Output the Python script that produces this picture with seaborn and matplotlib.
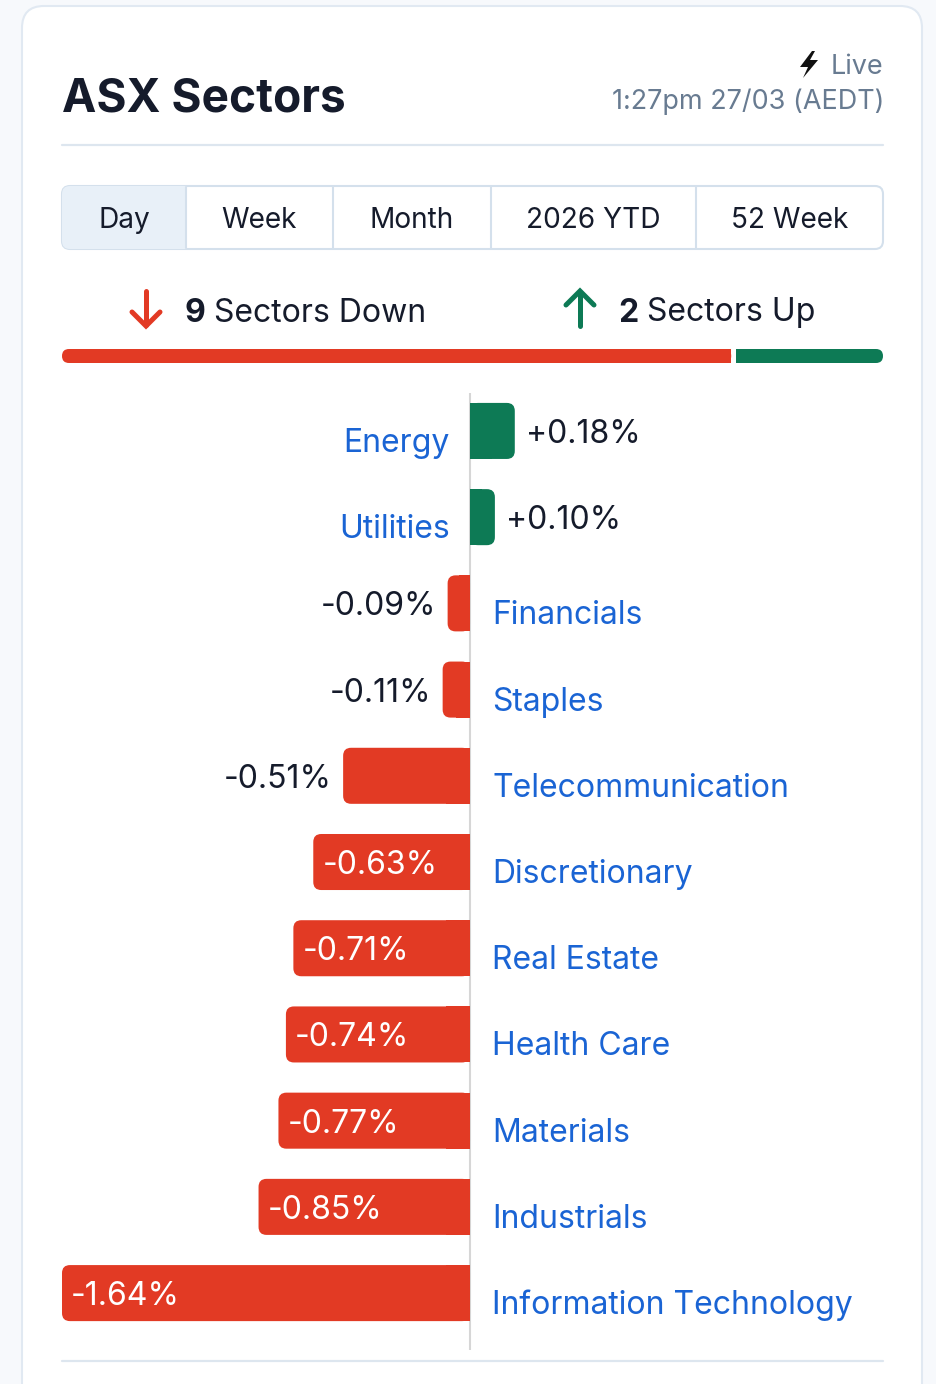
import numpy as np
import pandas as pd
import seaborn as sns
import matplotlib.pyplot as plt
from matplotlib.patches import FancyBboxPatch, Rectangle, Polygon

# data
sectors = ["Energy", "Utilities", "Financials", "Staples", "Telecommunication",
           "Discretionary", "Real Estate", "Health Care", "Materials",
           "Industrials", "Information Technology"]
changes = [0.18, 0.10, -0.09, -0.11, -0.51, -0.63, -0.71, -0.74, -0.77, -0.85, -1.64]
tabs = ["Day", "Week", "Month", "2026 YTD", "52 Week"]
title = "ASX Sectors"
live_text = "Live"
stamp_text = "1:27pm 27/03 (AEDT)"

RED = "#e23a24"
GREEN = "#0d7a55"
BLUE = "#1a64d4"
DARK = "#151b2b"
GREY = "#687b91"
LINE = "#dde6ef"

df = pd.DataFrame({"sector": sectors, "change": changes})
df["dir"] = np.where(df["change"] >= 0, "up", "down")
n_down = int((df["dir"] == "down").sum())
n_up = int((df["dir"] == "up").sum())

sns.set_style("white")
plt.rcParams["font.family"] = ["Inter", "DejaVu Sans"]

W, H = 936, 1384
fig = plt.figure(figsize=(W / 100, H / 100), dpi=100)
fig.patch.set_facecolor("#f7f9fc")

def px(v):
    return v * 0.72  # px -> pt at dpi 100

# background / overlay axes in pixel coords
bg = fig.add_axes([0, 0, 1, 1], zorder=0)
bg.set_xlim(0, W)
bg.set_ylim(H, 0)
bg.axis("off")

card = FancyBboxPatch((22, 6), 900, 1420, boxstyle="round,pad=0,rounding_size=22",
                      fc="white", ec="#e1e9f2", lw=1.5)
bg.add_patch(card)

bg.text(62, 100, title, fontsize=px(46), fontweight="bold", color=DARK, va="center", ha="left")
bg.text(883, 67, live_text, fontsize=px(27), color=GREY, va="center", ha="right")
bolt = Polygon([(812, 51), (800, 67), (808, 67), (803, 78), (818, 60), (810, 60), (815, 51)],
               closed=True, fc="#111111", ec="none")
bg.add_patch(bolt)
bg.text(884, 102, stamp_text, fontsize=px(27), color=GREY, va="center", ha="right")
bg.plot([62, 883], [145, 145], color=LINE, lw=1.6)

# tabs
tab_edges = [62, 186, 333, 491, 696, 883]
outer = FancyBboxPatch((62, 186), 821, 63, boxstyle="round,pad=0,rounding_size=8",
                       fc="white", ec="#d4e0ec", lw=1.5, zorder=2)
bg.add_patch(outer)
sel = Rectangle((62, 186), tab_edges[1] - 62, 63, fc="#e8f0f8", ec="none", zorder=2.1)
sel.set_clip_path(outer)
bg.add_patch(sel)
for xe in tab_edges[1:-1]:
    bg.plot([xe, xe], [187, 248], color="#d4e0ec", lw=1.5, zorder=2.2)
for i, lab in enumerate(tabs):
    cx = (tab_edges[i] + tab_edges[i + 1]) / 2
    bg.text(cx, 221, lab, fontsize=px(28), color=DARK, ha="center", va="center", zorder=3)

# up / down summary
bg.plot([146, 146], [291, 325], color=RED, lw=px(5), solid_capstyle="round")
bg.plot([132, 146, 160], [312, 326, 312], color=RED, lw=px(5), solid_capstyle="round",
        solid_joinstyle="miter")
bg.text(185, 313, str(n_down), fontsize=px(32), fontweight="bold", color=DARK, va="center")
bg.text(214, 313, "Sectors Down", fontsize=px(32), color=DARK, va="center")
bg.plot([580, 580], [292, 326], color=GREEN, lw=px(5), solid_capstyle="round")
bg.plot([566, 580, 594], [305, 291, 305], color=GREEN, lw=px(5), solid_capstyle="round",
        solid_joinstyle="miter")
bg.text(618, 313, str(n_up), fontsize=px(32), fontweight="bold", color=DARK, va="center")
bg.text(647, 313, "Sectors Up", fontsize=px(32), color=DARK, va="center")

# progress bar split by counts
x0, x1, gap = 62, 883, 5
split = x0 + (x1 - x0) * n_down / (n_down + n_up)
red_end, green_start = split - gap / 2, split + gap / 2
bg.add_patch(FancyBboxPatch((x0, 349), red_end - x0, 14, boxstyle="round,pad=0,rounding_size=7",
                            fc=RED, ec="none"))
bg.add_patch(Rectangle((red_end - 10, 349), 10, 14, fc=RED, ec="none"))
bg.add_patch(FancyBboxPatch((green_start, 349), x1 - green_start, 14,
                            boxstyle="round,pad=0,rounding_size=7", fc=GREEN, ec="none"))
bg.add_patch(Rectangle((green_start, 349), 10, 14, fc=GREEN, ec="none"))

bg.plot([62, 883], [1361, 1361], color=LINE, lw=1.6)

# bar chart
ax_l, ax_r, ax_t, ax_b = 62, 883, 393, 1350
ax = fig.add_axes([ax_l / W, (H - ax_b) / H, (ax_r - ax_l) / W, (ax_b - ax_t) / H], zorder=1)
ax.patch.set_alpha(0)
sns.barplot(data=df, x="change", y="sector", hue="dir", palette={"up": GREEN, "down": RED},
            orient="h", width=0.65, dodge=False, legend=False, saturation=1, ax=ax)
ax.set_xlim(-1.64, 1.66)
ax.set_ylim(10.66, -0.44)
ax.axvline(0, color="#d6d6d6", lw=1.5, zorder=0)
sns.despine(ax=ax, left=True, bottom=True)
ax.set_xticks([])
ax.set_yticks([])
ax.set_xlabel("")
ax.set_ylabel("")

ppx = (ax_r - ax_l) / (1.66 + 1.64)
ppy = (ax_b - ax_t) / 11.1
r = 8 / ppx
for p in list(ax.patches):
    bx, by, bw, bh = p.get_x(), p.get_y(), p.get_width(), p.get_height()
    lo, hi = min(bx, bx + bw), max(bx, bx + bw)
    col = p.get_facecolor()
    p.set_visible(False)
    ax.add_patch(FancyBboxPatch((lo, by), hi - lo, bh,
                                boxstyle=f"round,pad=0,rounding_size={r}",
                                mutation_aspect=ppx / ppy, fc=col, ec="none", zorder=2))
    sqw = min((hi - lo) / 2, 3 * r)
    sq = Rectangle((0 if bw >= 0 else -sqw, by), sqw, bh, fc=col, ec="none", zorder=2)
    ax.add_patch(sq)

FS = px(32)
for i, (name, v) in enumerate(zip(sectors, changes)):
    lab = f"{v:+.2f}%"
    if v >= 0:
        ax.annotate(name, (0, i), xytext=(px(-20), px(-21)), textcoords="offset points",
                    ha="right", va="baseline", color=BLUE, fontsize=FS)
        ax.annotate(lab, (v, i), xytext=(px(11), px(-12)), textcoords="offset points",
                    ha="left", va="baseline", color=DARK, fontsize=FS)
    else:
        ax.annotate(name, (0, i), xytext=(px(22), px(-21)), textcoords="offset points",
                    ha="left", va="baseline", color=BLUE, fontsize=FS)
        if v > -0.6:
            ax.annotate(lab, (v, i), xytext=(px(-11), px(-12)), textcoords="offset points",
                        ha="right", va="baseline", color=DARK, fontsize=FS)
        else:
            ax.annotate(lab, (v, i), xytext=(px(9), px(-12)), textcoords="offset points",
                        ha="left", va="baseline", color="white", fontsize=FS, zorder=3)

fig.savefig("out.png", dpi=100, facecolor=fig.get_facecolor())
